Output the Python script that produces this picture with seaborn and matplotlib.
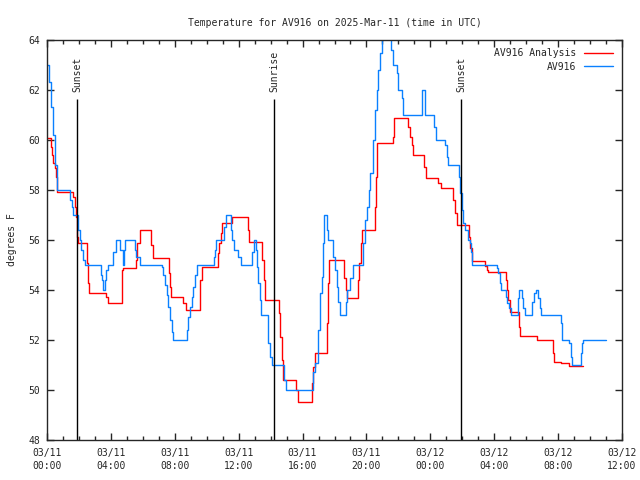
import pandas as pd
import matplotlib.pyplot as plt
import matplotlib.dates as mdates
import seaborn as sns

# hours after 2025-03-11 00:00 UTC
obs_hours = [0.00, 0.11, 0.23, 0.36, 0.48, 0.61, 1.42, 1.55, 1.63, 1.96, 2.07, 2.15, 2.27, 2.36,
             3.36, 3.46, 3.53, 3.62, 3.72, 3.85, 4.15, 4.30, 4.60, 4.74, 4.82, 4.90, 5.49, 5.60, 5.80,
             7.22, 7.28, 7.39, 7.50, 7.60, 7.70, 7.81, 7.91, 8.75, 8.85, 8.95, 9.06, 9.16, 9.27, 9.37,
             10.46, 10.54, 10.60, 11.04, 11.10, 11.19, 11.52, 11.60, 11.73, 11.94, 12.13,
             12.86, 12.98, 13.07, 13.15, 13.23, 13.32, 13.40, 13.69, 13.82, 13.86, 13.96, 14.07,
             14.80, 14.86, 14.94, 16.53, 16.68, 16.78, 16.99, 17.09, 17.20, 17.30, 17.37,
             17.47, 17.53, 17.60, 17.83, 17.93, 18.03, 18.14, 18.24, 18.37, 18.62, 18.70, 18.77, 18.97, 19.18,
             19.70, 19.81, 19.91, 20.02, 20.16, 20.23, 20.43, 20.54, 20.64, 20.75, 20.85, 20.96, 21.05,
             21.54, 21.68, 21.90, 22.00, 22.21, 22.31, 23.46, 23.50, 23.67, 24.19, 24.23, 24.36,
             24.82, 24.92, 25.03, 25.13, 25.76, 25.82, 25.86, 25.97, 26.07, 26.20, 26.34, 26.49, 26.55, 26.59, 26.63,
             28.05, 28.16, 28.26, 28.37, 28.43, 28.64, 28.72, 28.82, 28.93, 29.05,
             29.41, 29.47, 29.56, 29.64, 29.72, 29.82, 29.93, 30.26, 30.39, 30.51, 30.60,
             30.70, 30.77, 30.84, 30.91, 32.08, 32.17, 32.23, 32.64, 32.71, 32.81, 32.90,
             33.33, 33.42, 33.48, 33.54, 34.98]
obs_temp = [63.0, 62.3, 61.3, 60.2, 59.0, 58.0, 57.6, 57.3, 57.0, 56.4, 56.0, 55.6, 55.2, 55.0,
            54.6, 54.4, 54.0, 54.4, 54.8, 55.0, 55.5, 56.0, 55.6, 55.0, 55.6, 56.0, 55.6, 55.3, 55.0,
            54.9, 54.6, 54.2, 53.8, 53.3, 52.8, 52.3, 52.0, 52.4, 52.9, 53.3, 53.7, 54.1, 54.6, 55.0,
            55.3, 55.6, 56.0, 56.0, 56.5, 57.0, 56.4, 56.0, 55.6, 55.3, 55.0,
            55.5, 56.0, 55.6, 54.9, 54.25, 53.6, 53.0, 53.0, 52.4, 51.85, 51.3, 51.0,
            51.0, 50.4, 50.0, 50.0, 50.7, 51.05, 52.4, 53.85, 54.5, 55.85, 57.0,
            57.0, 56.4, 56.0, 56.0, 55.3, 54.8, 54.1, 53.5, 53.0, 53.0, 53.5, 54.0, 54.45, 55.0,
            55.0, 55.85, 56.8, 57.3, 58.0, 58.65, 60.0, 61.2, 62.0, 62.8, 63.45, 64.0, 64.5,
            63.6, 63.0, 62.65, 62.0, 61.65, 61.0, 61.0, 62.0, 61.0, 61.0, 60.5, 60.0,
            60.0, 59.78, 59.3, 59.0, 59.0, 58.5, 57.85, 57.2, 56.65, 56.38, 56.0, 55.85, 55.5, 55.2, 55.0,
            55.0, 54.85, 54.65, 54.25, 54.0, 54.0, 53.7, 53.45, 53.25, 53.0,
            53.0, 53.65, 54.0, 54.0, 53.65, 53.25, 53.0, 53.0, 53.5, 53.85, 54.0,
            54.0, 53.65, 53.25, 53.0, 53.0, 52.65, 52.0, 52.0, 51.85, 51.3, 51.0,
            51.0, 51.45, 51.85, 52.0, 52.0]

ana_hours = [0.00, 0.19, 0.27, 0.33, 0.39, 0.48, 0.54, 0.61, 0.65, 1.65, 1.73, 1.80, 1.86, 1.90, 1.94,
             2.52, 2.59, 2.63, 3.68, 3.82, 4.68, 4.74, 5.55, 5.65, 5.80, 6.53, 6.66,
             7.64, 7.70, 7.77, 8.53, 8.68, 9.60, 9.69, 10.69, 10.77, 10.88, 10.98, 11.60,
             12.60, 12.67, 13.48, 13.57, 13.65, 14.55, 14.61, 14.70, 14.76, 15.59, 15.70,
             16.57, 16.67, 16.78, 17.55, 17.61, 17.68, 18.60, 18.70, 18.80, 19.46, 19.54, 19.64, 19.70,
             20.54, 20.60, 20.69, 21.65, 21.73, 22.62, 22.73, 22.84, 22.94, 23.63, 23.73,
             24.50, 24.65, 25.44, 25.55, 25.66, 26.42, 26.49, 26.60, 27.42, 27.53, 27.63,
             28.72, 28.80, 28.89, 28.99, 29.57, 29.64, 30.66, 31.70, 31.77, 32.19, 32.69, 33.54]
ana_temp = [60.05, 60.05, 59.7, 59.38, 59.05, 58.85, 58.5, 58.25, 57.9, 57.7, 57.3, 56.9, 56.4, 56.1, 55.85,
            55.05, 54.25, 53.85, 53.7, 53.45, 54.78, 54.85, 55.2, 55.85, 56.38, 55.8, 55.25,
            54.65, 54.1, 53.7, 53.45, 53.18, 54.38, 54.9, 55.45, 55.85, 56.25, 56.65, 56.9,
            56.38, 55.9, 55.18, 54.38, 53.58, 53.05, 52.1, 51.18, 50.38, 49.98, 49.5,
            50.25, 50.9, 51.45, 52.65, 54.25, 55.2, 54.45, 53.98, 53.65, 54.38, 55.05, 55.85, 56.38,
            57.3, 58.5, 59.85, 60.1, 60.85, 60.5, 60.1, 59.78, 59.38, 58.9, 58.45,
            58.25, 58.05, 57.58, 57.05, 56.58, 56.1, 55.65, 55.14, 54.94, 54.8, 54.69,
            54.38, 53.98, 53.58, 53.11, 52.51, 52.14, 52.0, 51.45, 51.09, 51.05, 50.94, 50.94]

sun_hours = [1.9, 14.23, 25.92]
sun_names = ['Sunset', 'Sunrise', 'Sunset']

y_ticks = [48, 50, 52, 54, 56, 58, 60, 62, 64]

start = pd.Timestamp('2025-03-11 00:00')
obs = pd.DataFrame({'time': start + pd.to_timedelta(obs_hours, unit='h'), 'temp': obs_temp})
ana = pd.DataFrame({'time': start + pd.to_timedelta(ana_hours, unit='h'), 'temp': ana_temp})
sun_times = start + pd.to_timedelta(sun_hours, unit='h')

sns.set_style('ticks')
plt.rcParams['font.family'] = ['DejaVu Sans Mono']
plt.rcParams['font.size'] = 7

fig = plt.figure(figsize=(6.4, 4.8), dpi=100)
ax = fig.add_axes([47 / 640, 40.5 / 480, 575 / 640, 400 / 480])

sns.lineplot(data=ana, x='time', y='temp', color='#ff0000', lw=1, drawstyle='steps-post',
             label='AV916 Analysis', ax=ax)
sns.lineplot(data=obs, x='time', y='temp', color='#0a80ff', lw=1, drawstyle='steps-post',
             label='AV916', ax=ax)

for t, name in zip(sun_times, sun_names):
    ax.vlines(t, 48, 61.62, color='black', lw=1)
    ax.text(t, 61.9, name, rotation=90, ha='center', va='bottom', fontsize=7)

ax.set_xlim(start, start + pd.Timedelta(hours=36))
ax.set_ylim(48, 64)
ax.set_yticks(y_ticks)
ax.xaxis.set_major_locator(mdates.HourLocator(byhour=range(0, 24, 4)))
ax.xaxis.set_minor_locator(mdates.HourLocator())
ax.xaxis.set_major_formatter(mdates.DateFormatter('%m/%d\n%H:%M'))
ax.tick_params(which='both', direction='in', top=True, right=True, width=1, labelsize=7)
ax.tick_params(which='major', length=5)
ax.tick_params(which='minor', length=3)
ax.tick_params(axis='x', pad=6)
ax.tick_params(axis='y', pad=5)
for s in ax.spines.values():
    s.set_linewidth(1)

ax.set_xlabel('')
ax.set_ylabel('degrees F', fontsize=7, labelpad=8)
ax.set_title('Temperature for AV916 on 2025-Mar-11 (time in UTC)', fontsize=7, pad=10)
ax.legend(loc='upper right', frameon=False, markerfirst=False, handlelength=3.0,
          handletextpad=0.8, labelspacing=0.35, borderaxespad=0.5, fontsize=7)

fig.canvas.draw()
for lab in ax.get_xticklabels():
    lab.set_linespacing(1.45)

plt.savefig('out.png', dpi=100)
